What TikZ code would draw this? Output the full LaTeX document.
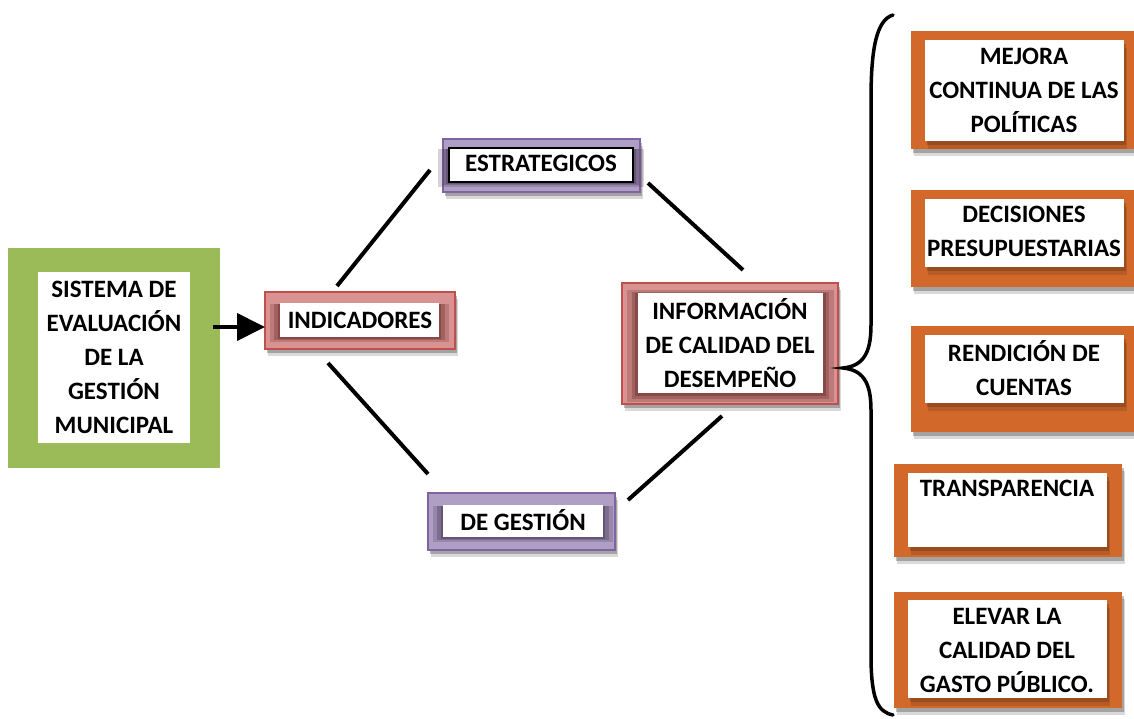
\documentclass[tikz,border=0pt]{standalone}
\usepackage{fontspec}
\setmainfont{Carlito}
\usetikzlibrary{shadows,arrows.meta}
\definecolor{cgreen}{HTML}{9BBB59}
\definecolor{cred}{HTML}{C0504D}
\definecolor{cpurple}{HTML}{8064A2}
\definecolor{corange}{HTML}{D2692A}
\tikzset{
  box/.style={inner sep=0pt, outer sep=0pt, anchor=north west},
  outshadow/.style={
    drop shadow={shadow xshift=3pt, shadow yshift=-7pt, opacity=0.15, fill=black},
    drop shadow={shadow xshift=2pt, shadow yshift=-4pt, opacity=0.25, fill=black}},
  glow/.style={
    drop shadow={shadow xshift=0pt, shadow yshift=-3pt, shadow scale=1.12, opacity=0.22, fill=#1},
    drop shadow={shadow xshift=0pt, shadow yshift=-2pt, shadow scale=1.07, opacity=0.3, fill=#1},
    drop shadow={shadow xshift=0pt, shadow yshift=-1pt, shadow scale=1.03, opacity=0.4, fill=#1}},
  greenbox/.style={box, fill=cgreen},
  redbox/.style={box, draw=cred, line width=1.5pt, fill=cred!62!white, outshadow},
  purplebox/.style={box, draw=cpurple, line width=1.5pt, fill=cpurple!62!white, outshadow},
  orangebox/.style={box, fill=corange, outshadow},
  whitebox/.style={box, fill=white},
  redin/.style={box, fill=white, glow=cred!50!black},
  purplein/.style={box, fill=white, glow=cpurple!50!black},
  orangein/.style={box, fill=white,
    drop shadow={shadow xshift=3pt, shadow yshift=-8pt, opacity=0.2, fill=black!60!corange},
    drop shadow={shadow xshift=2pt, shadow yshift=-4pt, opacity=0.3, fill=black!60!corange}},
  txt/.style={font=\bfseries\fontsize{25}{34}\selectfont, align=center, inner sep=0pt},
  link/.style={line width=4pt, black},
}
\begin{document}
\begin{tikzpicture}[x=1pt,y=-1pt]
\useasboundingbox (0,0) rectangle (1134,719);
% green
\node[greenbox, minimum width=212pt, minimum height=220pt] (gout) at (8,248) {};
\node[whitebox, minimum width=152pt, minimum height=171pt] (gin) at (38,272) {};
\node[txt] (gtext) at (114,357) {SISTEMA DE\\EVALUACIÓN\\DE LA\\GESTIÓN\\MUNICIPAL};
% indicadores
\node[redbox, minimum width=190pt, minimum height=57pt] (indout) at (265,292) {};
\node[redin, minimum width=159pt, minimum height=34pt] (indin) at (280,303) {};
\node[txt] (indtext) at (360,320) {INDICADORES};
% estrategicos
\node[purplebox, minimum width=197pt, minimum height=53pt] (estout) at (443,139) {};
\node[purplein, draw=black, line width=1.5pt, minimum width=184pt, minimum height=34pt] (estin) at (449,148) {};
\node[txt] (esttext) at (541,163) {ESTRATEGICOS};
% de gestion
\node[purplebox, minimum width=187pt, minimum height=57pt] (gesout) at (428,493) {};
\node[purplein, minimum width=160pt, minimum height=32pt] (gesin) at (443,505) {};
\node[txt] (gestext) at (523,520) {DE GESTIÓN};
% informacion
\node[redbox, minimum width=216pt, minimum height=121pt] (infout) at (622,283) {};
\node[redin, minimum width=185pt, minimum height=100pt] (infin) at (638,293) {};
\node[txt] (inftext) at (730,343) {INFORMACIÓN\\DE CALIDAD DEL\\DESEMPEÑO};
% arrow
\coordinate (atail) at (213,327);
\draw[link, -{Triangle[length=28pt,width=27pt]}] (atail) -- (atail -| indout.west);
% links
\coordinate (l1a) at (337,286); \coordinate (l1b) at (430,170);
\coordinate (l2a) at (328,363); \coordinate (l2b) at (428,474);
\coordinate (l3a) at (648,183); \coordinate (l3b) at (743,270);
\coordinate (l4a) at (722,416); \coordinate (l4b) at (628,500);
\draw[link] (l1a) -- (l1b);
\draw[link] (l2a) -- (l2b);
\draw[link] (l3a) -- (l3b);
\draw[link] (l4a) -- (l4b);
% brace
\coordinate (btop) at (893,15);
\coordinate (btip) at (843,368);
\coordinate (bbot) at (893,715);
\draw[line width=3.5pt, line cap=round] (btop) .. controls (876,20) and (871,50) .. (871,100) -- (871,325)
  .. controls (871,355) and (862,366) .. (btip)
  .. controls (862,370) and (871,381) .. (871,410) -- (871,655)
  .. controls (871,700) and (878,712) .. (bbot);
% orange boxes
\node[orangebox, minimum width=223pt, minimum height=118pt] (o1) at (911,31) {};
\node[orangein, minimum width=199pt, minimum height=101pt] (o1in) at (925,40) {};
\node[txt] (o1t) at (1024,90) {MEJORA\\CONTINUA DE LAS\\POLÍTICAS};
\node[orangebox, minimum width=223pt, minimum height=97pt] (o2) at (911,190) {};
\node[orangein, minimum width=199pt, minimum height=68pt] (o2in) at (925,199) {};
\node[txt] (o2t) at (1024,231.5) {DECISIONES\\PRESUPUESTARIAS};
\node[orangebox, minimum width=223pt, minimum height=106pt] (o3) at (911,326) {};
\node[orangein, minimum width=199pt, minimum height=68pt] (o3in) at (925,335) {};
\node[txt] (o3t) at (1024,368.5) {RENDICIÓN DE\\CUENTAS};
\node[orangebox, minimum width=228pt, minimum height=93pt] (o4) at (894,464) {};
\node[orangein, minimum width=199pt, minimum height=74pt] (o4in) at (908,473) {};
\node[txt] (o4t) at (1007,488) {TRANSPARENCIA};
\node[orangebox, minimum width=228pt, minimum height=116pt] (o5) at (894,592) {};
\node[orangein, minimum width=199pt, minimum height=98pt] (o5in) at (908,600) {};
\node[txt] (o5t) at (1007,650) {ELEVAR LA\\CALIDAD DEL\\GASTO PÚBLICO.};
\end{tikzpicture}
\end{document}
